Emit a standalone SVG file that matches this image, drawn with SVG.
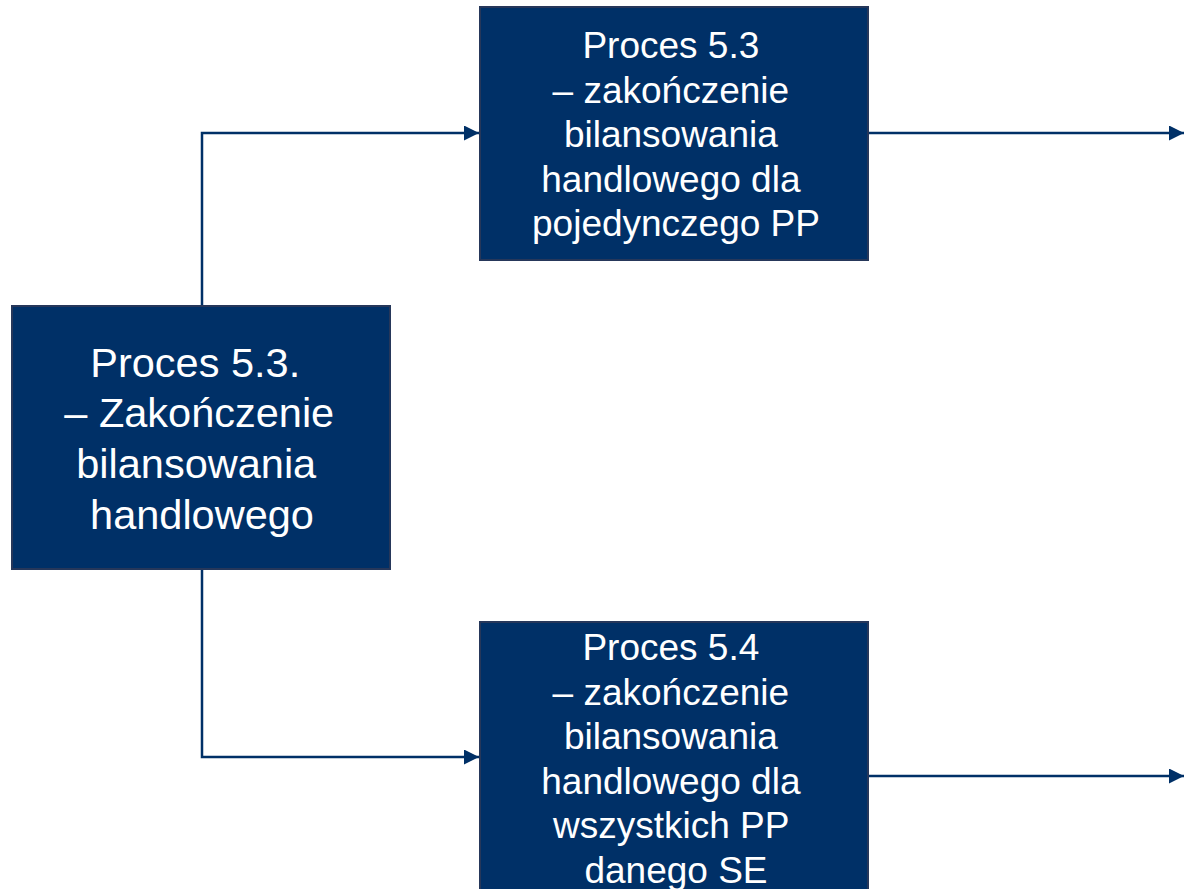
<svg xmlns="http://www.w3.org/2000/svg" width="1184" height="889" viewBox="0 0 1184 889">
<style>
.box{fill:#003067;stroke:#26375a;stroke-width:2}
.t{font-family:"Liberation Sans",Arial,sans-serif;fill:#ffffff;text-anchor:middle}
.c{fill:none;stroke:#003067;stroke-width:2.5}
</style>
<defs>
<marker id="ah" viewBox="0 0 10 10" refX="10" refY="5" markerWidth="15" markerHeight="15" markerUnits="userSpaceOnUse" orient="auto">
<path d="M0,0 L10,5 L0,10 Z" fill="#003067"/>
</marker>
</defs>
<rect width="1184" height="889" fill="#ffffff"/>
<g id="connectors">
<path class="c" d="M202,306 V133 H479" marker-end="url(#ah)"/>
<path class="c" d="M202,569 V757 H479" marker-end="url(#ah)"/>
<path class="c" d="M868,133 H1184" marker-end="url(#ah)"/>
<path class="c" d="M868,776 H1184" marker-end="url(#ah)"/>
</g>
<g id="node-main">
<rect class="box" x="12" y="306" width="378" height="263"/>
<text class="t" font-size="41.5" x="201">
<tspan x="201" y="377">Proces 5.3.</tspan>
<tspan x="205" y="427">– Zakończenie</tspan>
<tspan x="202" y="478">bilansowania</tspan>
<tspan x="202" y="529">handlowego</tspan>
</text>
</g>
<g id="node-53">
<rect class="box" x="480" y="7" width="388" height="253"/>
<text class="t" font-size="37" x="676">
<tspan x="676" y="58">Proces 5.3</tspan>
<tspan x="676" y="102.5">– zakończenie</tspan>
<tspan x="676" y="147">bilansowania</tspan>
<tspan x="676" y="191.5">handlowego dla</tspan>
<tspan x="676" y="236">pojedynczego PP</tspan>
</text>
</g>
<g id="node-54">
<rect class="box" x="480" y="622" width="388" height="290"/>
<text class="t" font-size="37" x="676">
<tspan x="676" y="660">Proces 5.4</tspan>
<tspan x="676" y="704.5">– zakończenie</tspan>
<tspan x="676" y="749">bilansowania</tspan>
<tspan x="676" y="793.5">handlowego dla</tspan>
<tspan x="676" y="838">wszystkich PP</tspan>
<tspan x="676" y="882.5">danego SE</tspan>
</text>
</g>
</svg>
